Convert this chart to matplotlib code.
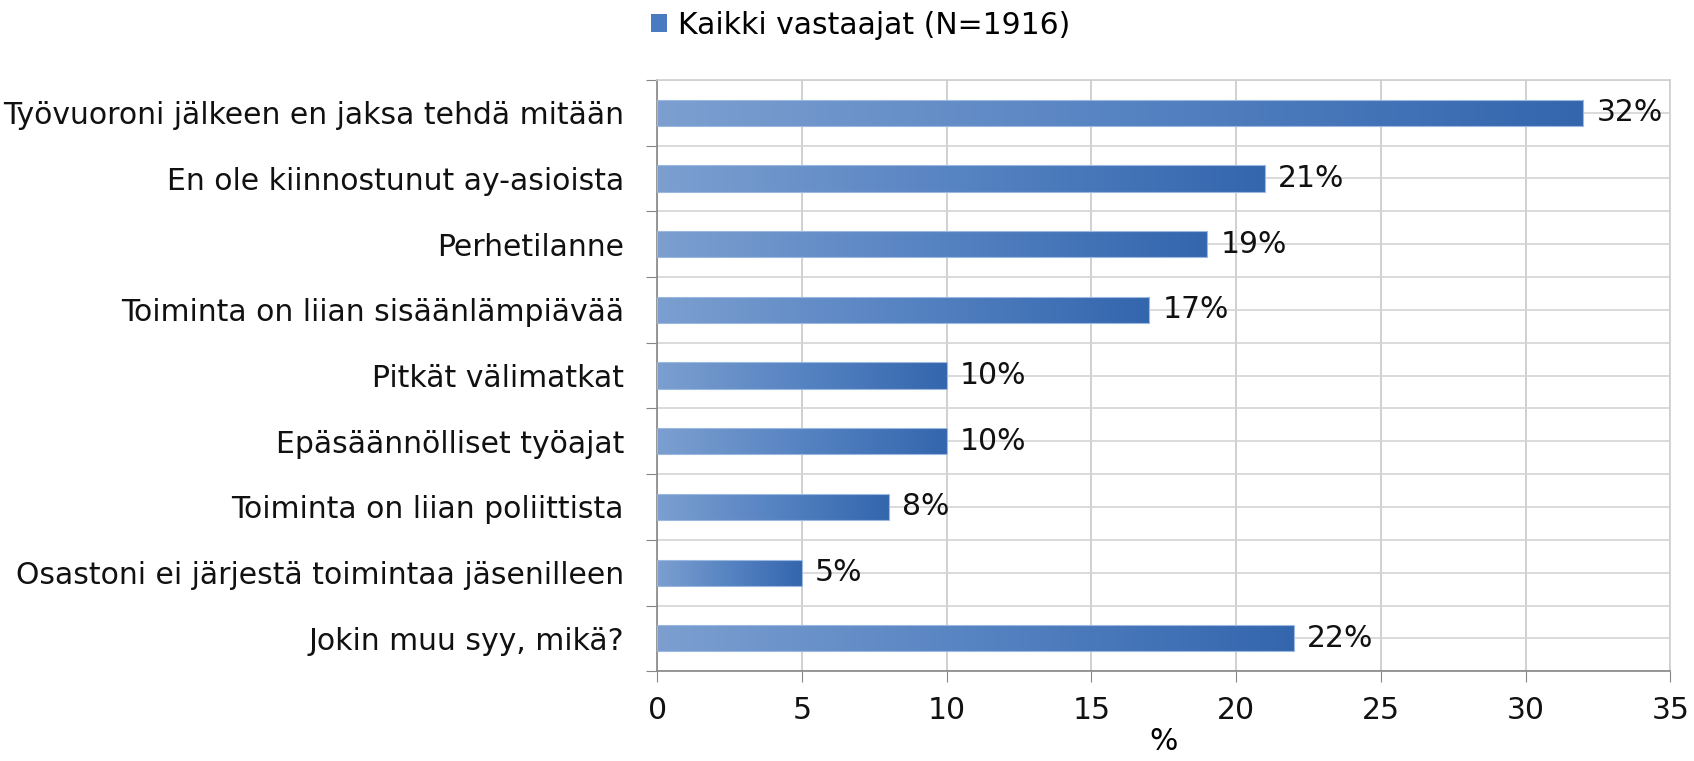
import numpy as np
import matplotlib
matplotlib.use('Agg')
import matplotlib.pyplot as plt
from matplotlib.colors import LinearSegmentedColormap
from matplotlib.patches import Patch

categories = [
    'Työvuoroni jälkeen en jaksa tehdä mitään',
    'En ole kiinnostunut ay-asioista',
    'Perhetilanne',
    'Toiminta on liian sisäänlämpiävää',
    'Pitkät välimatkat',
    'Epäsäännölliset työajat',
    'Toiminta on liian poliittista',
    'Osastoni ei järjestä toimintaa jäsenilleen',
    'Jokin muu syy, mikä?',
]
values = [32, 21, 19, 17, 10, 10, 8, 5, 22]
series_name = 'Kaikki vastaajat (N=1916)'
x_ticks = [0, 5, 10, 15, 20, 25, 30, 35]

plt.rcParams['font.family'] = ['DejaVu Sans']
FS = 21.5

fig = plt.figure(figsize=(16.94, 7.61), dpi=100)
ax = fig.add_axes([0.388, 0.118, 0.598, 0.777])

y = np.arange(len(categories))
bars = ax.barh(y, values, height=0.4, color='none', edgecolor='#9ab8e0',
               linewidth=0.8, zorder=3)

cmap = LinearSegmentedColormap.from_list('grad', ['#7c9fd0', '#5683c2', '#3466ae'])
grad = np.linspace(0, 1, 256).reshape(1, -1)
for b in bars:
    x0, y0 = b.get_x(), b.get_y()
    w, h = b.get_width(), b.get_height()
    im = ax.imshow(grad, cmap=cmap, aspect='auto', zorder=2,
                   extent=[x0, x0 + w, y0 + h, y0], interpolation='bicubic')
    im.set_clip_path(b)
    ax.text(x0 + w + 0.45, y0 + h / 2, f'{int(w)}%', va='center', ha='left',
            fontsize=FS, color='#111111', zorder=4)

ax.set_xlim(0, 35)
ax.set_ylim(len(categories) - 0.5, -0.5)
ax.set_xticks(x_ticks)
ax.set_xticklabels([str(t) for t in x_ticks], fontsize=FS)
ax.set_yticks(np.arange(len(categories) + 1) - 0.5)
ax.set_yticklabels([])
ax.set_yticks(y, minor=True)
ax.set_yticklabels(categories, minor=True, fontsize=FS)
ax.tick_params(axis='y', which='minor', length=0, pad=24)
ax.tick_params(axis='y', which='major', length=8, color='#868686', direction='out')
ax.tick_params(axis='x', length=8, color='#868686', direction='out', pad=10)
ax.tick_params(which='both', labelcolor='#111111')

ax.grid(True, axis='x', color='#c8c8c8', linewidth=1.2, zorder=0)
ax.grid(True, axis='y', which='both', color='#d4d4d4', linewidth=1.2, zorder=0)
ax.set_axisbelow(True)

for side in ['top', 'right']:
    ax.spines[side].set_color('#cfcfcf')
    ax.spines[side].set_linewidth(1.2)
for side in ['left', 'bottom']:
    ax.spines[side].set_color('#868686')
    ax.spines[side].set_linewidth(1.2)

ax.set_xlabel('%', fontsize=FS, labelpad=1)

handle = Patch(facecolor='#4a7bc0', edgecolor='none')
fig.legend([handle], [series_name], loc='center', bbox_to_anchor=(0.508, 0.967),
           frameon=False, fontsize=FS, handlelength=0.55, handleheight=0.55,
           handletextpad=0.35)

fig.savefig('out.png', dpi=100)
